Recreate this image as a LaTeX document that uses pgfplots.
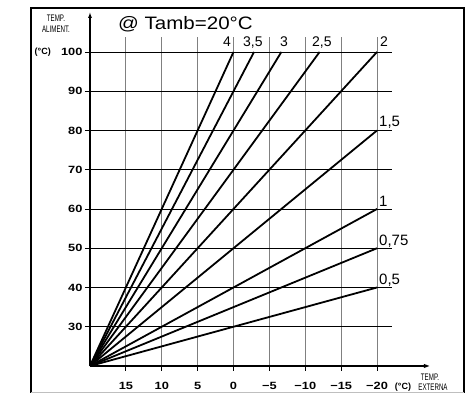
\documentclass[border=0pt]{standalone}
\usepackage{fontspec}
\setmainfont{Liberation Sans}
\newfontfamily\tickfont[FakeStretch=1.22]{Liberation Sans}
\newfontfamily\titlefont[FakeStretch=1.14]{Liberation Sans}
\newfontfamily\narrowfont[FakeStretch=0.65]{Liberation Sans}
\usepackage{pgfplots}
\pgfplotsset{compat=1.18}
\usetikzlibrary{arrows.meta}
\begin{document}
\begin{tikzpicture}[x=1pt,y=1pt]
\useasboundingbox (0,0) rectangle (472,393);
\begin{axis}[
  at={(90pt,27pt)}, anchor=south west,
  scale only axis, width=343pt, height=358pt,
  x dir=reverse, xmin=-27.8, xmax=20, ymin=20, ymax=111.2,
  axis line style={draw=none},
  xtick={15,10,...,-20}, xticklabels={15,10,5,0,−5,−10,−15,−20},
  ytick={30,40,...,100},
  xtick pos=bottom, ytick pos=left,
  tick align=outside, major tick length=5pt,
  tick style={black, line width=0.8pt},
  /pgf/number format/assume math mode=true,
  ticklabel style={font=\tickfont\bfseries\fontsize{10.5}{12}\selectfont},
  xticklabel style={yshift=-8pt},
  yticklabel style={xshift=1pt},
  clip=false,
]
\pgfplotsinvokeforeach{15,10,5,0,-5,-10,-15,-20}{
  \draw[gray, line width=0.8pt] (axis cs:#1,20) -- (axis cs:#1,103.8);
}
\pgfplotsinvokeforeach{30,40,50,60,70,80,90,100}{
  \draw[black, line width=0.6pt] (axis cs:20,#1) -- (axis cs:-22.1,#1);
}
\addplot[black, line width=1.8pt] coordinates {(20,20) (-20,40)};
\addplot[black, line width=1.8pt] coordinates {(20,20) (-20,50)};
\addplot[black, line width=1.8pt] coordinates {(20,20) (-20,60)};
\addplot[black, line width=1.8pt] coordinates {(20,20) (-20,80)};
\addplot[black, line width=1.8pt] coordinates {(20,20) (-20,100)};
\addplot[black, line width=1.8pt] coordinates {(20,20) (-12,100)};
\addplot[black, line width=1.8pt] coordinates {(20,20) (-6.67,100)};
\addplot[black, line width=1.8pt] coordinates {(20,20) (-2.86,100)};
\addplot[black, line width=1.8pt] coordinates {(20,20) (0,100)};
\draw[line width=1.9pt, -{Latex[length=9pt,width=4pt]}] (axis cs:20,20) -- (axis cs:-27.8,20);
\draw[line width=1.9pt, -{Latex[length=6pt,width=4pt]}] (axis cs:20,20) -- (axis cs:20,110.2);
\end{axis}
\draw[line width=2pt] (31,-2) -- (31,385) -- (464,385) -- (464,-2);
\draw[gray!50, line width=0.8pt] (31,0.8) -- (464,0.8);
\node[anchor=base west, inner sep=0, font=\titlefont\fontsize{18}{20}\selectfont] at (118,363) {@ Tamb=20°C};
\begin{scope}[every node/.style={inner sep=0, font=\fontsize{14}{16}\selectfont}]
\node[anchor=base east] at (231,346) {4};
\node[anchor=base west] at (243,346) {3,5};
\node[anchor=base west] at (280,346) {3};
\node[anchor=base west] at (312,346) {2,5};
\node[anchor=base west] at (380,346) {2};
\end{scope}
\begin{scope}[every node/.style={inner sep=0, anchor=base west, font=\fontsize{15}{17}\selectfont}]
\node at (379,266) {1,5};
\node at (379,186) {1};
\node at (379,147) {0,75};
\node at (379,108) {0,5};
\end{scope}
\node[font=\narrowfont\fontsize{9.5}{10}\selectfont, inner sep=0] at (56,375) {TEMP.};
\node[font=\narrowfont\fontsize{9.5}{10}\selectfont, inner sep=0] at (56,364) {ALIMENT.};
\node[anchor=east, inner sep=0, font=\bfseries\fontsize{9}{10}\selectfont] at (51,341) {(°C)};
\node[inner sep=0, font=\bfseries\fontsize{9}{10}\selectfont] at (403,6) {(°C)};
\node[font=\narrowfont\fontsize{9.5}{10}\selectfont, inner sep=0] at (430,16) {TEMP.};
\node[font=\narrowfont\fontsize{9.5}{10}\selectfont, inner sep=0] at (433,6) {EXTERNA};
\end{tikzpicture}
\end{document}
